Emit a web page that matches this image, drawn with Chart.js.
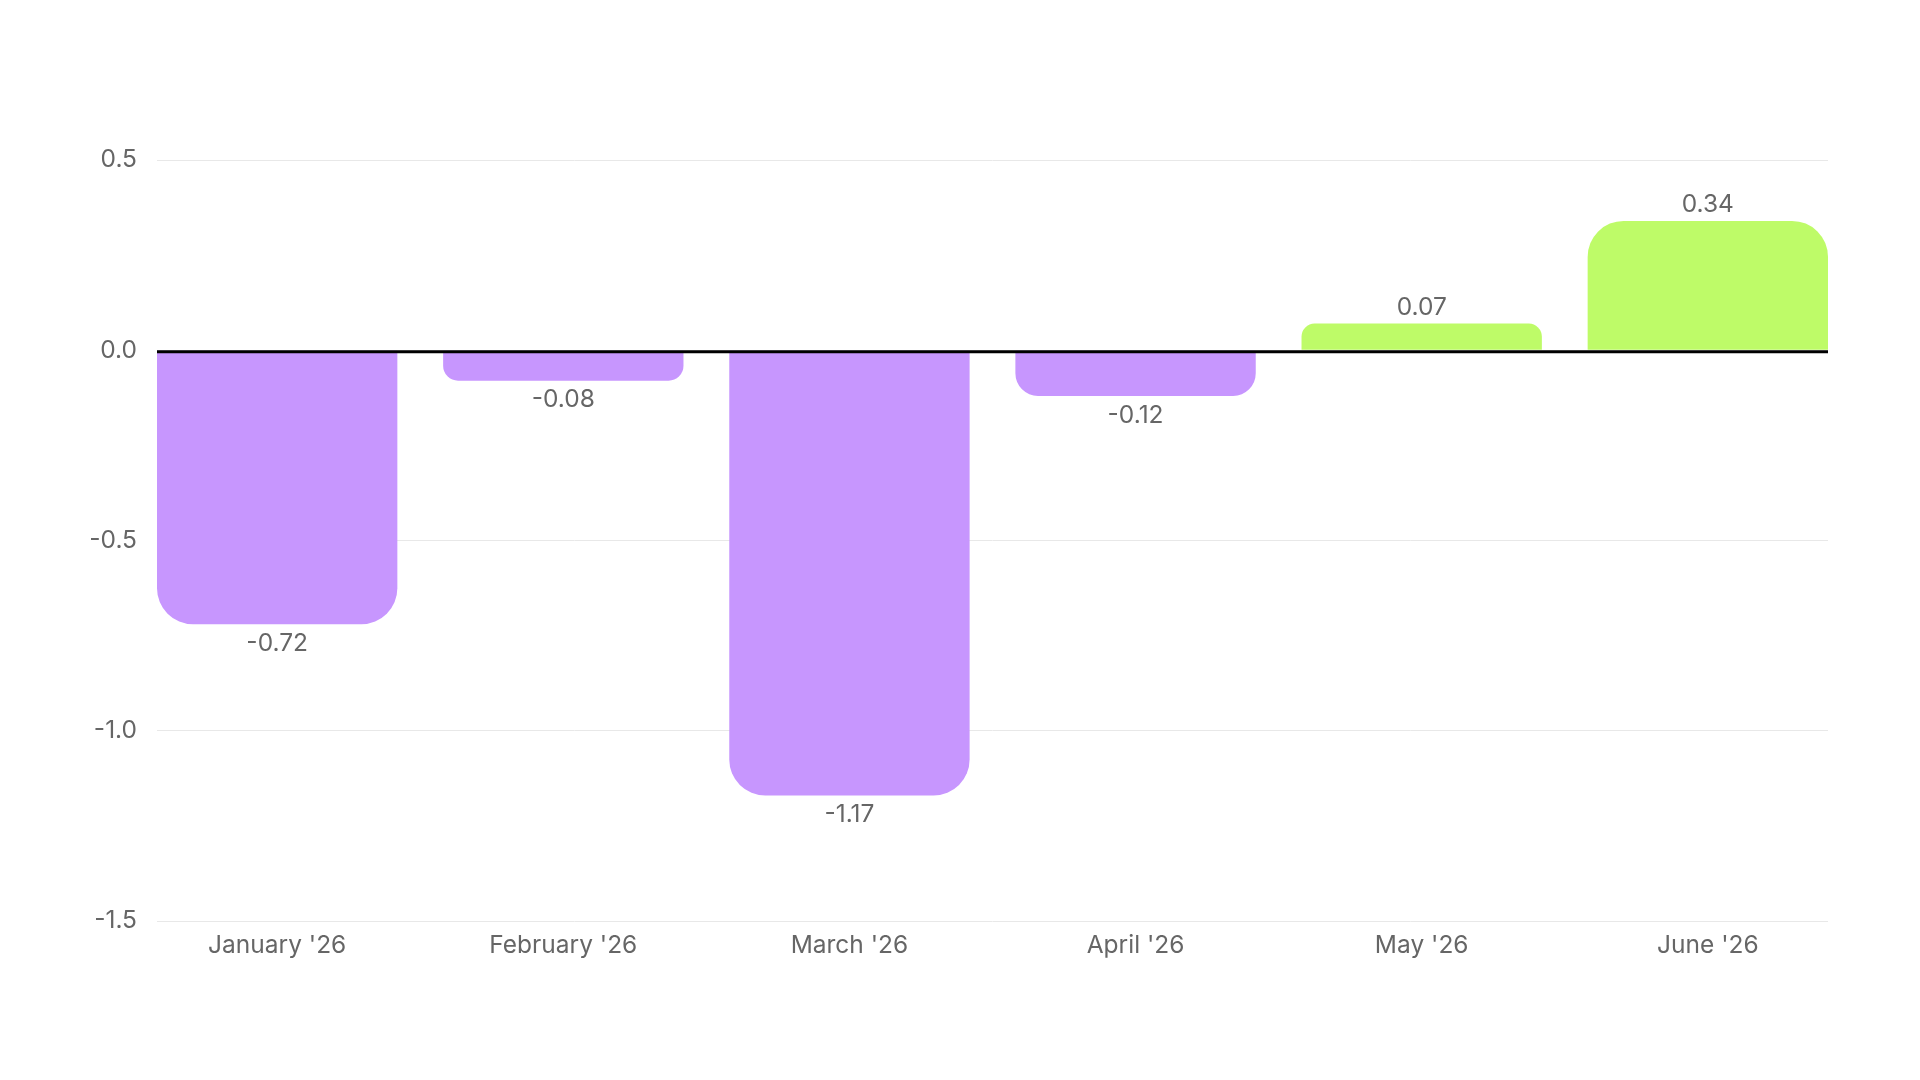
<!DOCTYPE html>
<html>
<head>
<meta charset="utf-8">
<script src="https://cdn.jsdelivr.net/npm/chart.js@4"></script>
<style>
  html, body { margin: 0; padding: 0; background: #ffffff; }
  #wrap { width: 1920px; height: 1080px; }
</style>
</head>
<body>
<div id="wrap"><canvas id="chart" width="1920" height="1080"></canvas></div>
<script>
// values
const months = ["January '26", "February '26", "March '26", "April '26", "May '26", "June '26"];
const changes = [-0.72, -0.08, -1.17, -0.12, 0.07, 0.34];
const yTicks = [-1.5, -1.0, -0.5, 0.0, 0.5];

const purple = '#c796fe';
const green = '#befb68';
const textGrey = '#666666';

// black line at zero, drawn over the bars
const zeroLine = {
    id: 'zeroLine',
    afterDatasetsDraw: (chart) => {
        let ctx = chart.ctx;
        let area = chart.chartArea;
        let y = chart.scales.y.getPixelForValue(0) + 1.5;
        ctx.save();
        ctx.strokeStyle = '#000000';
        ctx.lineWidth = 3;
        ctx.beginPath();
        ctx.moveTo(area.left, y);
        ctx.lineTo(area.right, y);
        ctx.stroke();
        ctx.restore();
    }
};

// value labels at the end of each bar
const barLabels = {
    id: 'barLabels',
    afterDatasetsDraw: (chart) => {
        let ctx = chart.ctx;
        let meta = chart.getDatasetMeta(0);
        ctx.save();
        ctx.font = '24.5px Inter';
        ctx.fillStyle = textGrey;
        ctx.textAlign = 'center';
        meta.data.forEach((bar, i) => {
            let v = changes[i];
            if (v < 0) {
                ctx.textBaseline = 'top';
                ctx.fillText(v.toFixed(2), bar.x, bar.y + 7);
            } else {
                ctx.textBaseline = 'bottom';
                ctx.fillText(v.toFixed(2), bar.x, bar.y - 4);
            }
        });
        ctx.restore();
    }
};

Chart.defaults.font.family = 'Inter';

new Chart(document.getElementById('chart'), {
    type: 'bar',
    data: {
        datasets: [{
            data: changes.map((v, i) => ({ x: i, y: v })),
            backgroundColor: changes.map(v => v < 0 ? purple : green),
            borderWidth: 0,
            borderRadius: 36,
            borderSkipped: 'start',
            barPercentage: 0.84,
            categoryPercentage: 1
        }]
    },
    options: {
        responsive: false,
        animation: false,
        devicePixelRatio: 1,
        layout: {
            padding: { top: 160, right: 92, bottom: 0, left: 0 }
        },
        plugins: {
            legend: { display: false },
            tooltip: { enabled: false },
            title: { display: false }
        },
        scales: {
            x: {
                type: 'linear',
                min: -0.42,
                max: 5.42,
                offset: false,
                bounds: 'data',
                grid: { display: false, offset: false },
                border: { display: false },
                afterBuildTicks: (scale) => {
                    scale.ticks = months.map((m, i) => ({ value: i }));
                },
                afterFit: (scale) => {
                    scale.height = 159;
                },
                ticks: {
                    autoSkip: false,
                    maxRotation: 0,
                    padding: 2,
                    color: textGrey,
                    font: { size: 24.5 },
                    callback: (value) => months[value]
                }
            },
            y: {
                min: -1.5,
                max: 0.5,
                afterBuildTicks: (scale) => {
                    scale.ticks = yTicks.map(v => ({ value: v }));
                },
                afterFit: (scale) => {
                    scale.width = 157;
                },
                grid: {
                    color: '#e8e8e8',
                    lineWidth: 1,
                    drawTicks: false
                },
                border: { display: false },
                ticks: {
                    padding: 20,
                    color: textGrey,
                    font: { size: 24.5 },
                    callback: (value) => value.toFixed(1)
                }
            }
        }
    },
    plugins: [zeroLine, barLabels]
});
</script>
</body>
</html>
